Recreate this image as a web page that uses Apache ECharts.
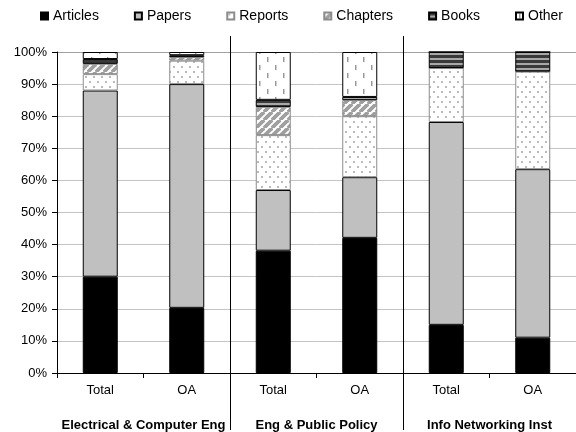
<!DOCTYPE html>
<html>
<head>
<meta charset="utf-8">
<script src="https://cdn.jsdelivr.net/npm/echarts@6/dist/echarts.min.js"></script>
<style>
html,body{margin:0;padding:0;background:#fff;}
#chart{width:576px;height:432px;}
</style>
</head>
<body>
<div id="chart"></div>
<script>
// ---- data ----
const categories = ['Total', 'OA', 'Total', 'OA', 'Total', 'OA'];
const groups = ['Electrical & Computer Eng', 'Eng & Public Policy', 'Info Networking Inst'];
const seriesNames = ['Articles', 'Papers', 'Reports', 'Chapters', 'Books', 'Other'];
const articles = [30, 20.3, 38.1, 42.1, 15, 11];
const papers   = [58, 69.7, 18.9, 18.9, 63.2, 52.5];
const reports  = [5.1, 7.3, 17.1, 19, 16.8, 30.4];
const chapters = [3.2, 1.1, 8.8, 5, 0, 0];
const books    = [1.5, 0.6, 2.2, 1, 5, 6.1];
const other    = [2.2, 1.0, 14.9, 14, 0, 0];
const yMin = 0, yMax = 100, yStep = 10;

// ---- patterns ----
function makePattern(w, h, draw) {
  const c = document.createElement('canvas');
  c.width = w; c.height = h;
  const ctx = c.getContext('2d');
  ctx.fillStyle = '#fff';
  ctx.fillRect(0, 0, w, h);
  draw(ctx);
  return { image: c, repeat: 'repeat' };
}
const dotPattern = makePattern(8, 10, ctx => {
  ctx.fillStyle = '#9a9a9a';
  ctx.beginPath(); ctx.arc(2, 2, 0.9, 0, Math.PI * 2); ctx.fill();
  ctx.beginPath(); ctx.arc(6, 7, 0.9, 0, Math.PI * 2); ctx.fill();
});
const hatchPattern = makePattern(8, 8, ctx => {
  ctx.strokeStyle = '#a0a0a0';
  ctx.lineWidth = 3.4;
  for (let k = -8; k <= 16; k += 8) {
    ctx.beginPath(); ctx.moveTo(k - 8, 8); ctx.lineTo(k, 0); ctx.stroke();
    ctx.beginPath(); ctx.moveTo(k, 8); ctx.lineTo(k + 8, 0); ctx.stroke();
  }
});
const stripePattern = makePattern(4, 5, ctx => {
  ctx.fillStyle = '#3a3a3a'; ctx.fillRect(0, 0, 4, 3);
  ctx.fillStyle = '#a8a8a8'; ctx.fillRect(0, 3, 4, 2);
});
const dashPattern = makePattern(16, 16, ctx => {
  ctx.fillStyle = '#999';
  ctx.fillRect(3, 1, 1.5, 5);
  ctx.fillRect(11, 9, 1.5, 5);
});

const seriesData = [articles, papers, reports, chapters, books, other];
const fills = ['#000000', '#c0c0c0', dotPattern, hatchPattern, stripePattern, dashPattern];
const borders = ['#000', '#000', '#8c8c8c', '#8c8c8c', '#000', '#000'];

const font = 'Liberation Sans, Arial, sans-serif';
const gridColors = [];
for (let v = yMin; v <= yMax; v += yStep) gridColors.push(v === yMax ? '#a0a0a0' : '#c4c4c4');

const skipFirst = (i) => i > 0;

const chart = echarts.init(document.getElementById('chart'), null, { renderer: 'canvas' });
chart.setOption({
  animation: false,
  backgroundColor: '#fff',
  textStyle: { fontFamily: font },
  legend: {
    data: seriesNames.map(n => ({ name: n, icon: 'rect' })),
    left: 40,
    top: 9,
    width: 560,
    padding: 0,
    itemWidth: 7,
    itemHeight: 7,
    itemGap: 35,
    textStyle: { fontSize: 14, color: '#000', fontFamily: font }
  },
  grid: { left: 57, top: 52, width: 522, height: 323 },
  xAxis: [
    {
      type: 'category',
      data: categories,
      position: 'bottom',
      axisLine: { lineStyle: { color: '#000', width: 1 } },
      axisTick: { show: true, length: 5, lineStyle: { color: '#000' } },
      axisLabel: { fontSize: 13, color: '#000', margin: 11, interval: 0, fontFamily: font },
      splitLine: { show: false }
    },
    {
      type: 'category',
      data: groups,
      position: 'bottom',
      axisLine: { show: false },
      axisTick: { show: true, length: 57, interval: skipFirst, lineStyle: { color: '#000' } },
      axisLabel: { fontSize: 13, color: '#000', fontWeight: 'bold', margin: 46, interval: 0, fontFamily: font },
      splitLine: { show: false }
    },
    {
      type: 'category',
      data: groups,
      position: 'top',
      offset: 16,
      axisLine: { show: false },
      axisTick: { show: true, inside: true, length: 339, interval: skipFirst, lineStyle: { color: '#000' } },
      axisLabel: { show: false },
      splitLine: { show: false }
    }
  ],
  yAxis: {
    type: 'value',
    min: yMin,
    max: yMax,
    interval: yStep,
    axisLine: { show: true, lineStyle: { color: '#000' } },
    axisTick: { show: true, length: 5, lineStyle: { color: '#000' } },
    axisLabel: { formatter: '{value}%', fontSize: 13, color: '#000', margin: 10, fontFamily: font },
    splitLine: { show: true, lineStyle: { color: gridColors, width: 1 } }
  },
  series: seriesNames.map((name, i) => ({
    name: name,
    type: 'bar',
    stack: 'total',
    xAxisIndex: 0,
    barWidth: 35,
    data: seriesData[i],
    itemStyle: { color: fills[i], borderColor: borders[i], borderWidth: 1 },
    emphasis: { disabled: true }
  }))
});
</script>
</body>
</html>
